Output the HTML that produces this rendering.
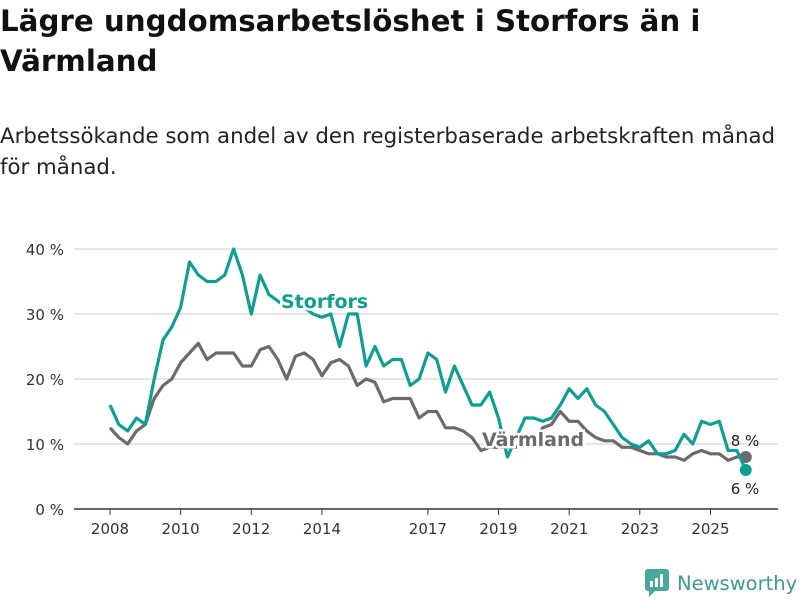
<!DOCTYPE html>
<html><head><meta charset="utf-8"><style>
body{margin:0;width:800px;height:600px;background:#fff;font-family:"DejaVu Sans","Liberation Sans",sans-serif;overflow:hidden;position:relative}
h1{position:absolute;left:0;top:1px;margin:0;font-size:29.3px;line-height:40px;font-weight:bold;color:#111;width:790px}
.sub{position:absolute;left:0;top:121px;font-size:21.3px;line-height:31px;color:#222;width:800px}
svg{position:absolute;left:0;top:0}
</style></head><body>
<h1>Lägre ungdomsarbetslöshet i Storfors än i Värmland</h1>
<div class="sub">Arbetssökande som andel av den registerbaserade arbetskraften månad för månad.</div>
<svg id="c" width="800" height="600"></svg>
<script>
const xTicks=[2008,2010,2012,2014,2017,2019,2021,2023,2025];
const yTicks=[0,10,20,30,40];
const startYear=2008, step=0.25;
const storfors=[16,13,12,14,13,20,26,28,31,38,36,35,35,36,40,36,30,36,33,32,31,33,31,30,29.5,30,25,30,30,22,25,22,23,23,19,20,24,23,18,22,19,16,16,18,14,8,11,14,14,13.5,14,16,18.5,17,18.5,16,15,13,11,10,9.5,10.5,8.5,8.5,9,11.5,10,13.5,13,13.5,9,9,6];
const varmland=[12.5,11,10,12,13,17,19,20,22.5,24,25.5,23,24,24,24,22,22,24.5,25,23,20,23.5,24,23,20.5,22.5,23,22,19,20,19.5,16.5,17,17,17,14,15,15,12.5,12.5,12,11,9,9.5,9.5,9.5,9.5,10,10,12.5,13,15,13.5,13.5,12,11,10.5,10.5,9.5,9.5,9,8.5,8.5,8,8,7.5,8.5,9,8.5,8.5,7.5,8,8];
const ns="http://www.w3.org/2000/svg",svg=document.getElementById('c');
const X=t=>110+35.32*(t-2008), Y=v=>509-6.5*v;
function mk(tag,at,txt){const e=document.createElementNS(ns,tag);for(const k in at)e.setAttribute(k,at[k]);if(txt!=null)e.textContent=txt;svg.appendChild(e);return e;}
yTicks.forEach(v=>{
 const l=mk('line',{x1:74,x2:778,y1:Y(v),y2:Y(v),stroke:v===0?'#333':'#ddd','stroke-width':1.5});
 
 
 const t=mk('text',{x:64,y:Y(v)+6,'text-anchor':'end','font-size':15,fill:'#333'},v+' %');
 
 
});
xTicks.forEach(y=>{
 const l=mk('line',{x1:X(y),x2:X(y),y1:509,y2:515,stroke:'#333'});
 
 
 const t=mk('text',{x:X(y),y:534,'text-anchor':'middle','font-size':15,fill:'#333'},String(y));
 
 
});
function line(arr,col,name){
 const d=arr.map((v,i)=>(i?'L':'M')+X(startYear+i*step).toFixed(1)+','+Y(v).toFixed(1)).join('');
 const p=mk('path',{d:d,fill:'none',stroke:col,'stroke-width':3.2,'stroke-linejoin':'round'});
 
 
 const n=arr.length-1;
 const c=mk('circle',{cx:X(startYear+n*step),cy:Y(arr[n]),r:6,fill:col});
 
 
}
line(varmland,'#6b6b6e','varmland-line');
line(storfors,'#0f9e92','storfors-line');
function lab(x,y,txt,col,name){
 const t=mk('text',{x:x,y:y,'font-size':19,'font-weight':'bold',fill:col,stroke:'#fff','stroke-width':5,'paint-order':'stroke'},txt);
 
 
}
lab(281,308,'Storfors','#0f9e92','storfors-label');
lab(482,446,'Värmland','#6b6b6e','varmland-label');
const n=varmland.length-1;
const e1=mk('text',{x:745,y:Y(varmland[n])-11,'text-anchor':'middle','font-size':15,fill:'#222'},Math.round(varmland[n])+' %');


const e2=mk('text',{x:745,y:Y(storfors[n])+24,'text-anchor':'middle','font-size':15,fill:'#222'},Math.round(storfors[n])+' %');


</script>
<div style="position:absolute;left:645px;top:570px;height:26px;display:flex;align-items:center">
<svg width="24" height="28" style="position:static"><rect x="0" y="0" width="24" height="22" rx="3" fill="#4aa79d"/><polygon points="4,22 10,22 4,28" fill="#4aa79d"/><rect x="5" y="12" width="3" height="6" fill="#fff"/><rect x="10" y="9" width="3" height="9" fill="#fff"/><rect x="15" y="5" width="3" height="13" fill="#fff"/></svg>
<span style="font-size:19.5px;color:#3d9a90;margin-left:8px;font-weight:500">Newsworthy</span></div>
</body></html>
